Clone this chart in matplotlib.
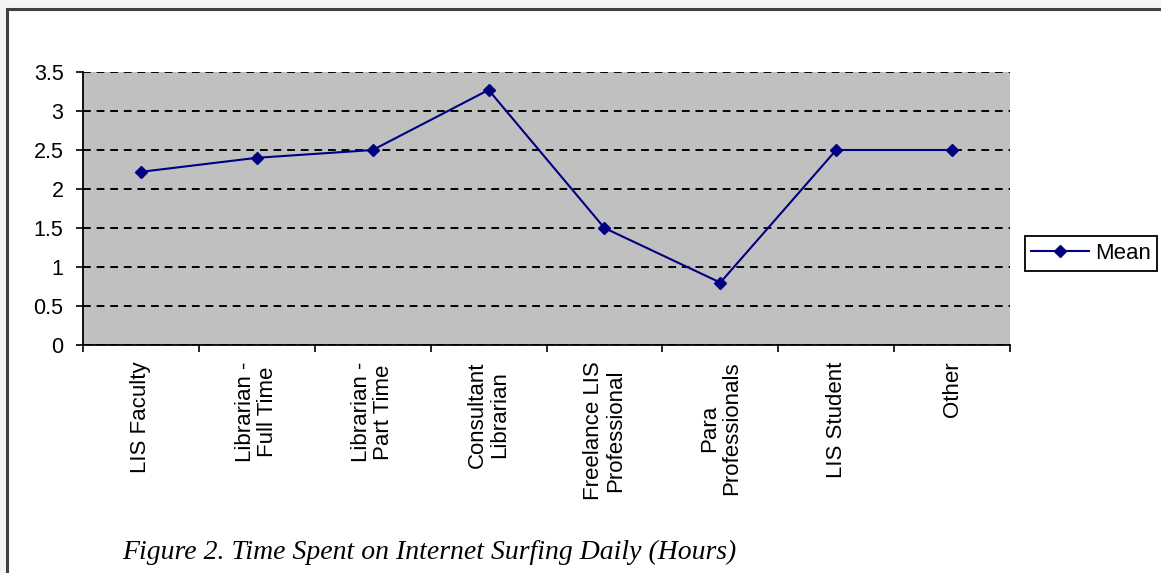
import numpy as np
import matplotlib.pyplot as plt
from matplotlib.patches import Rectangle

# data
categories = ["LIS Faculty", "Librarian -\nFull Time", "Librarian -\nPart Time",
              "Consultant\nLibrarian", "Freelance LIS\nProfessional",
              "Para\nProfessionals", "LIS Student", "Other"]
mean_hours = [2.22, 2.40, 2.50, 3.27, 1.50, 0.80, 2.50, 2.50]
y_ticks = [0, 0.5, 1, 1.5, 2, 2.5, 3, 3.5]
y_tick_labels = ["0", "0.5", "1", "1.5", "2", "2.5", "3", "3.5"]

plt.rcParams['font.family'] = ['Liberation Sans', 'DejaVu Sans']

W, H = 1161, 573
fig = plt.figure(figsize=(W / 100, H / 100), dpi=100)
fig.patch.set_facecolor('#f4f4f4')

# white chart area with dark frame (cut by right/bottom edge)
frame = Rectangle((7 / W, -0.05), 1.1, 1 - 9 / H + 0.05, transform=fig.transFigure,
                  facecolor='white', edgecolor='#404040', linewidth=2.2, zorder=-5)
fig.patches.append(frame)

ax = fig.add_axes([83 / W, 1 - 345 / H, (1010 - 83) / W, (345 - 72) / H])
ax.set_facecolor('#c0c0c0')

x = np.arange(len(categories))
line, = ax.plot(x, mean_hours, color='#000080', linewidth=1.5, marker='D',
                markersize=6.5, label='Mean', zorder=3)

ax.set_xlim(-0.5, len(categories) - 0.5)
ax.set_ylim(0, 3.5)
ax.set_yticks(y_ticks)
ax.set_yticklabels(y_tick_labels, fontsize=15.5)
ax.yaxis.grid(True, color='black', linestyle=(0, (4, 3)), linewidth=1.4)
ax.set_axisbelow(True)

ax.set_xticks(x)
ax.set_xticklabels(categories, rotation=90, fontsize=16, va='top',
                   ha='center', multialignment='center', linespacing=1.05)
ax.set_xticks(np.arange(len(categories) + 1) - 0.5, minor=True)
ax.tick_params(axis='x', which='major', length=0, pad=12)
ax.tick_params(axis='x', which='minor', length=5, width=1.2, direction='out')
ax.tick_params(axis='y', length=5, width=1.2, direction='out', pad=9)

for s in ['top', 'right']:
    ax.spines[s].set_visible(False)
for s in ['left', 'bottom']:
    ax.spines[s].set_color('black')
    ax.spines[s].set_linewidth(1.3)

leg = fig.legend(handles=[line], loc='center', bbox_to_anchor=(1091 / W, 1 - 253.5 / H),
                 fontsize=16, frameon=True, fancybox=False, edgecolor='black',
                 framealpha=1, borderpad=0.3, handlelength=2.6, handletextpad=0.25,
                 borderaxespad=0)
leg.get_frame().set_linewidth(1.3)

fig.text(122 / W, 1 - 552 / H, "Figure 2. Time Spent on Internet Surfing Daily (Hours)",
         family='Liberation Serif', style='italic', fontsize=20, va='center', ha='left')

fig.savefig('out.png', dpi=100, facecolor=fig.get_facecolor())
